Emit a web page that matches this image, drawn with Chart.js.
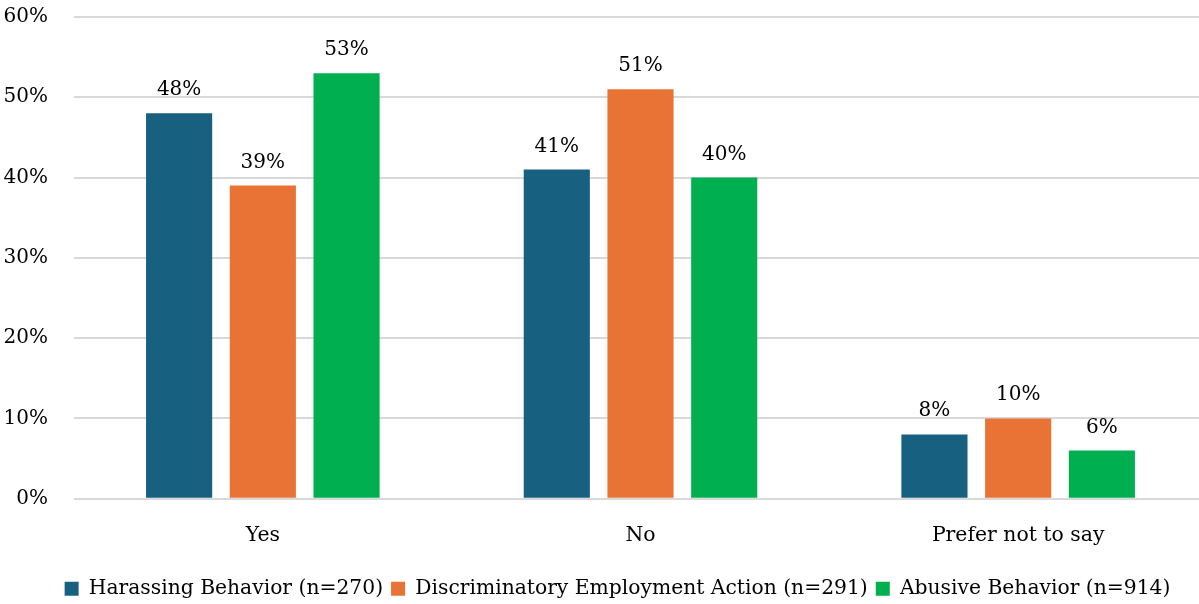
<!DOCTYPE html>
<html>
<head>
<meta charset="utf-8">
<script src="https://cdn.jsdelivr.net/npm/chart.js@4"></script>
<style>
    html, body { margin: 0; padding: 0; background: #ffffff; overflow: hidden; }
    #clip { width: 1199px; height: 604px; overflow: hidden; }
    #wrap { width: 1207px; height: 604px; position: relative; }
</style>
</head>
<body>
<div id="clip"><div id="wrap"><canvas id="chart"></canvas></div></div>
<script>
const FONT_FAMILY = '"Palatino Linotype", "Book Antiqua", Palatino, "DejaVu Serif", "Liberation Serif", serif';

const categories = ['Yes', 'No', 'Prefer not to say'];
const harassingValues = [48, 41, 8];
const discriminatoryValues = [39, 51, 10];
const abusiveValues = [53, 40, 6];
const seriesLabels = [
    'Harassing Behavior (n=270)',
    'Discriminatory Employment Action (n=291)',
    'Abusive Behavior (n=914)'
];
const yTicks = [0, 10, 20, 30, 40, 50, 60];

const seriesColors = ['#17607f', '#e97334', '#00b050'];

// draws the "48%" labels above each bar
const barValueLabels = {
    id: 'barValueLabels',
    afterDatasetsDraw(chart) {
        const { ctx } = chart;
        ctx.save();
        ctx.font = `20px ${FONT_FAMILY}`;
        ctx.fillStyle = '#000000';
        ctx.textAlign = 'center';
        ctx.textBaseline = 'alphabetic';
        chart.data.datasets.forEach((dataset, i) => {
            const meta = chart.getDatasetMeta(i);
            meta.data.forEach((bar, j) => {
                ctx.fillText(`${dataset.data[j]}%`, bar.x, bar.y - 18);
            });
        });
        ctx.restore();
    }
};

// the legend in the original sits a bit right of and below the default spot
const legendNudge = {
    id: 'legendNudge',
    afterLayout(chart) {
        const legend = chart.legend;
        if (!legend) return;
        legend.left += 14;
        legend.right += 14;
        legend.top += 5;
        legend.bottom += 5;
    }
};

function makeDataset(label, data, color) {
    return {
        label,
        data,
        backgroundColor: color,
        borderWidth: 0,
        categoryPercentage: 0.665,
        barPercentage: 0.79
    };
}

new Chart(document.getElementById('chart'), {
    type: 'bar',
    data: {
        labels: categories,
        datasets: [
            makeDataset(seriesLabels[0], harassingValues, seriesColors[0]),
            makeDataset(seriesLabels[1], discriminatoryValues, seriesColors[1]),
            makeDataset(seriesLabels[2], abusiveValues, seriesColors[2])
        ]
    },
    options: {
        responsive: true,
        maintainAspectRatio: false,
        animation: false,
        layout: { padding: { top: 17, right: 0, left: 0, bottom: 0 } },
        plugins: {
            tooltip: { enabled: false },
            legend: {
                position: 'bottom',
                labels: {
                    font: { family: FONT_FAMILY, size: 20.3 },
                    color: '#000000',
                    boxWidth: 14,
                    boxHeight: 14,
                    padding: 8
                }
            }
        },
        scales: {
            x: {
                grid: { display: false },
                border: { display: false },
                afterFit: (axis) => {
                    axis.height = 67;
                },
                ticks: {
                    font: { family: FONT_FAMILY, size: 20.4 },
                    color: '#000000',
                    padding: 17
                }
            },
            y: {
                min: 0,
                max: 60,
                afterBuildTicks: (axis) => {
                    axis.ticks = yTicks.map((value) => ({ value }));
                },
                afterFit: (axis) => {
                    axis.width = 74;
                    axis.paddingTop = 0;
                    axis.paddingBottom = 0;
                },
                grid: { color: '#d9d9d9', lineWidth: 2, tickLength: 0 },
                border: { display: false },
                ticks: {
                    font: { family: FONT_FAMILY, size: 20 },
                    color: '#000000',
                    padding: 26,
                    callback: (value) => `${value}%`
                }
            }
        }
    },
    plugins: [barValueLabels, legendNudge]
});
</script>
</body>
</html>
